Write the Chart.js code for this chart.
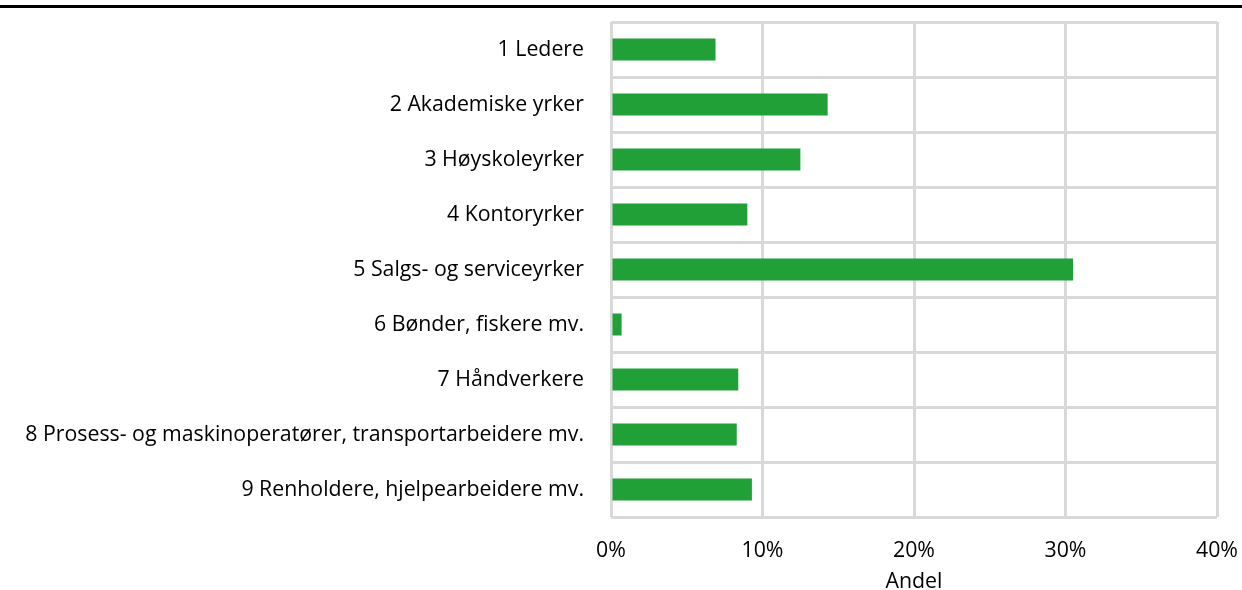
<!DOCTYPE html>
<html><head><meta charset="utf-8">
<script src="https://cdn.jsdelivr.net/npm/chart.js@4.4.1/dist/chart.umd.min.js"></script>
<style>
html,body{margin:0;padding:0;background:#fff;}
#wrap{position:relative;width:1242px;height:590px;}
#topline{position:absolute;left:0;top:5px;width:1242px;height:3px;background:#000;}
canvas{position:absolute;left:0;top:0;}
</style></head>
<body>
<div id="wrap"><canvas id="c" width="1242" height="590"></canvas><div id="topline"></div></div>
<script>
const categories = [
  "1 Ledere",
  "2 Akademiske yrker",
  "3 Høyskoleyrker",
  "4 Kontoryrker",
  "5 Salgs- og serviceyrker",
  "6 Bønder, fiskere mv.",
  "7 Håndverkere",
  "8 Prosess- og maskinoperatører, transportarbeidere mv.",
  "9 Renholdere, hjelpearbeidere mv."
];
const andel = [6.9, 14.3, 12.5, 9.0, 30.5, 0.7, 8.4, 8.3, 9.3];
const xTicks = [0, 10, 20, 30, 40];
const axisTitle = "Andel";

const font = {family: "'Open Sans', sans-serif", size: 21.3};
function zeroPad(s){ s.paddingTop = 0; s.paddingBottom = 0; s.paddingLeft = 0; s.paddingRight = 0; }
new Chart(document.getElementById('c'), {
  type: 'bar',
  data: {
    labels: categories,
    datasets: [{
      data: andel,
      backgroundColor: '#21a038',
      borderWidth: 0,
      barPercentage: 0.4,
      categoryPercentage: 1.0
    }]
  },
  options: {
    indexAxis: 'y',
    responsive: false,
    animation: false,
    layout: {padding: {top: 22, right: 25, bottom: 0, left: 0}},
    plugins: {legend: {display: false}, tooltip: {enabled: false}},
    scales: {
      x: {
        min: xTicks[0], max: xTicks[xTicks.length-1],
        afterBuildTicks: (s) => { s.ticks = xTicks.map(v => ({value: v})); },
        afterFit: (s) => { zeroPad(s); s.height = 73; },
        ticks: {font: font, color: '#000', padding: 21, callback: v => v + '%', maxRotation: 0},
        grid: {color: '#d9d9d9', lineWidth: 3, drawTicks: false},
        border: {display: false},
        title: {display: true, text: axisTitle, font: font, color: '#000', padding: {top: 0, bottom: -5}}
      },
      y: {
        afterFit: (s) => { zeroPad(s); s.width = 611; },
        ticks: {font: font, color: '#000', padding: 27},
        grid: {color: '#d9d9d9', lineWidth: 3, drawTicks: false, offset: true},
        border: {display: false}
      }
    }
  }
});
</script>
</body></html>
